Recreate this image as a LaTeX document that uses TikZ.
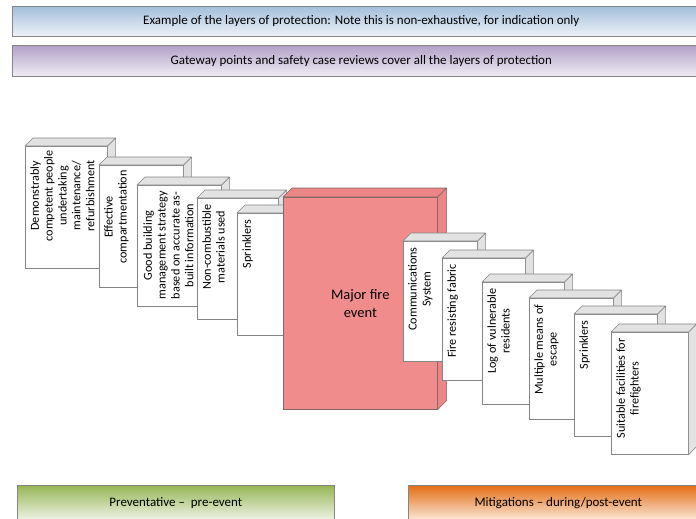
\documentclass[tikz,border=0pt]{standalone}
\usepackage{fontspec}
\setmainfont{Carlito}

\definecolor{edgegray}{HTML}{858585}
\definecolor{facegray}{HTML}{E2E2E2}
\definecolor{firered}{HTML}{F18C8C}
\definecolor{firefacered}{HTML}{EC8585}
\definecolor{rededge}{HTML}{806565}

\begin{document}
\begin{tikzpicture}[x=1pt, y=-1pt, semithick,
	banner/.style={draw=edgegray, anchor=north west, inner sep=0pt, font=\fontsize{13}{15}\selectfont},
	slab/.style={draw=edgegray, fill=white, anchor=north west, inner sep=0pt, minimum width=83pt, minimum height=122pt},
	face/.style={draw=edgegray, fill=facegray, line join=round},
	slabtext/.style={rotate=90, anchor=north east, align=center, inner sep=0pt, font=\fontsize{12.2}{13.9}\selectfont}]
	\useasboundingbox (0,0) rectangle (696,519);

	% banners
	\node[banner, top color={rgb,255:red,164;green,190;blue,218}, bottom color={rgb,255:red,238;green,243;blue,249}, minimum width=698pt, minimum height=30pt] (title) at (12,6) {Example of the layers of protection: Note this is non-exhaustive, for indication only};
	\node[banner, top color={rgb,255:red,178;green,162;blue,199}, bottom color={rgb,255:red,240;green,236;blue,245}, minimum width=698pt, minimum height=31pt] (gateway) at (12,45) {Gateway points and safety case reviews cover all the layers of protection};

	% preventative layers
	\node[slab, minimum width=82pt] (competent) at (25,146) {};
	\draw[face] (competent.north west) -- ++(8,-8) -| ([shift={(8,-8)}]competent.south east) -- (competent.south east) -- (competent.north east) -- cycle (competent.north east) -- ++(8,-8);
	\node[slabtext] (competenttxt) at ([shift={(5,4)}]competent.north west) {Demonstrably\\competent people\\undertaking\\maintenance/\\refurbishment};

	\node[slab, minimum width=84pt] (compart) at (99,165) {};
	\draw[face] (compart.north west) -- ++(8,-8) -| ([shift={(8,-8)}]compart.south east) -- (compart.south east) -- (compart.north east) -- cycle (compart.north east) -- ++(8,-8);
	\node[slabtext] (comparttxt) at ([shift={(5,5)}]compart.north west) {Effective\\compartmentation};

	\node[slab, minimum width=84pt, minimum height=121pt] (strategy) at (137,185) {};
	\draw[face] (strategy.north west) -- ++(8,-8) -| ([shift={(8,-8)}]strategy.south east) -- (strategy.south east) -- (strategy.north east) -- cycle (strategy.north east) -- ++(8,-8);
	\node[slabtext] (strategytxt) at ([shift={(6,6)}]strategy.north west) {Good building\\management strategy\\based on accurate as-\\built information};

	\node[slab, minimum width=81pt, minimum height=121pt] (materials) at (197,198) {};
	\draw[face] (materials.north west) -- ++(8,-8) -| ([shift={(8,-8)}]materials.south east) -- (materials.south east) -- (materials.north east) -- cycle (materials.north east) -- ++(8,-8);
	\node[slabtext] (materialstxt) at ([shift={(5,6)}]materials.north west) {Non-combustible\\materials used};

	\node[slab] (sprinklersA) at (237,213) {};
	\draw[face] (sprinklersA.north west) -- ++(8,-8) -| ([shift={(8,-8)}]sprinklersA.south east) -- (sprinklersA.south east) -- (sprinklersA.north east) -- cycle (sprinklersA.north east) -- ++(8,-8);
	\node[slabtext] (sprinklersAtxt) at ([shift={(5,6)}]sprinklersA.north west) {Sprinklers};

	% the event
	\node[slab, draw=rededge, fill=firered, minimum width=154pt, minimum height=212pt, align=center, font=\fontsize{14.5}{17.5}\selectfont] (fire) at (283,197) {Major fire\\event};
	\draw[face, draw=rededge, fill=firefacered] (fire.north west) -- ++(9,-9) -| ([shift={(9,-9)}]fire.south east) -- (fire.south east) -- (fire.north east) -- cycle (fire.north east) -- ++(9,-9);

	% mitigation layers
	\node[slab, minimum width=74pt, minimum height=120pt] (comms) at (403,241) {};
	\draw[face] (comms.north west) -- ++(8,-8) -| ([shift={(8,-8)}]comms.south east) -- (comms.south east) -- (comms.north east) -- cycle (comms.north east) -- ++(8,-8);
	\node[slabtext] (commstxt) at ([shift={(5,6)}]comms.north west) {Communications\\System};

	\node[slab] (fabric) at (442,258) {};
	\draw[face] (fabric.north west) -- ++(8,-8) -| ([shift={(8,-8)}]fabric.south east) -- (fabric.south east) -- (fabric.north east) -- cycle (fabric.north east) -- ++(8,-8);
	\node[slabtext] (fabrictxt) at ([shift={(5,6)}]fabric.north west) {Fire resisting fabric};

	\node[slab, minimum width=82pt] (residents) at (482,282) {};
	\draw[face] (residents.north west) -- ++(8,-8) -| ([shift={(8,-8)}]residents.south east) -- (residents.south east) -- (residents.north east) -- cycle (residents.north east) -- ++(8,-8);
	\node[slabtext] (residentstxt) at ([shift={(5,6)}]residents.north west) {Log of vulnerable\\residents};

	\node[slab, minimum width=84pt, minimum height=121pt] (escape) at (529,298) {};
	\draw[face] (escape.north west) -- ++(8,-8) -| ([shift={(8,-8)}]escape.south east) -- (escape.south east) -- (escape.north east) -- cycle (escape.north east) -- ++(8,-8);
	\node[slabtext] (escapetxt) at ([shift={(5,6)}]escape.north west) {Multiple means of\\escape};

	\node[slab] (sprinklersB) at (574,314) {};
	\draw[face] (sprinklersB.north west) -- ++(8,-8) -| ([shift={(8,-8)}]sprinklersB.south east) -- (sprinklersB.south east) -- (sprinklersB.north east) -- cycle (sprinklersB.north east) -- ++(8,-8);
	\node[slabtext] (sprinklersBtxt) at ([shift={(5,6)}]sprinklersB.north west) {Sprinklers};

	\node[slab, minimum width=77pt] (firefighters) at (611,332) {};
	\draw[face] (firefighters.north west) -- ++(8,-8) -| ([shift={(8,-8)}]firefighters.south east) -- (firefighters.south east) -- (firefighters.north east) -- cycle (firefighters.north east) -- ++(8,-8);
	\node[slabtext] (firefighterstxt) at ([shift={(5,6)}]firefighters.north west) {Suitable facilities for\\firefighters};

	% phases
	\node[banner, top color={rgb,255:red,150;green,182;blue,86}, bottom color={rgb,255:red,240;green,244;blue,232}, minimum width=317pt, minimum height=35pt] (pre) at (17,485) {Preventative --\ \ pre-event};
	\node[banner, top color={rgb,255:red,226;green,110;blue,20}, bottom color={rgb,255:red,252;green,232;blue,218}, minimum width=300pt, minimum height=35pt] (post) at (408,485) {Mitigations -- during/post-event};

\end{tikzpicture}
\end{document}
